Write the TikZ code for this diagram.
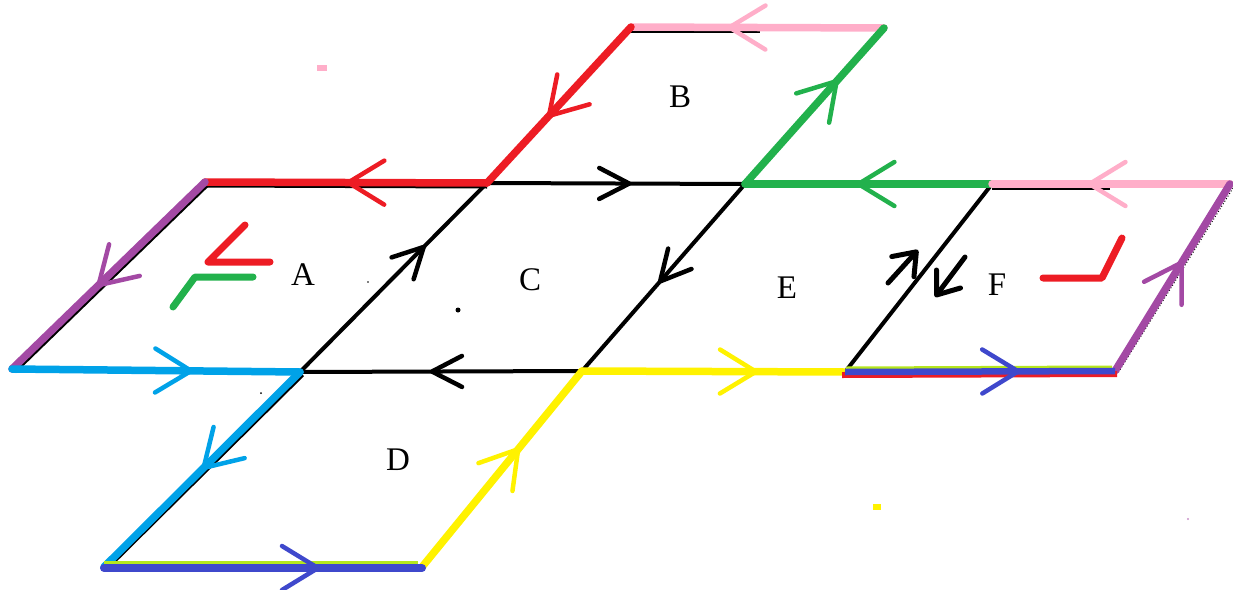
\documentclass[tikz,border=0pt]{standalone}
\usepackage{fontspec}
\setmainfont{Liberation Serif}
\usetikzlibrary{arrows.meta,decorations.markings,calc}
\definecolor{pred}{HTML}{ED1C24}
\definecolor{ppink}{HTML}{FFAEC9}
\definecolor{pgreen}{HTML}{22B14C}
\definecolor{ppurple}{HTML}{A349A4}
\definecolor{pcyan}{HTML}{00A2E8}
\definecolor{pyellow}{HTML}{FFF200}
\definecolor{pblue}{HTML}{3F48CC}
\definecolor{plime}{HTML}{B5E61D}
\tikzset{
  bigtip/.tip={Straight Barb[length=36pt,width=44pt,line width=4.5pt,round]},
  blacktip/.tip={Straight Barb[length=30pt,width=31pt,line width=4.5pt,round]},
  tinytip/.tip={Straight Barb[length=20pt,width=30pt,line width=5pt,round]},
  cedge/.style={line width=7.5pt,line cap=round},
  bedge/.style={line width=4pt,line cap=round},
  under/.style={line width=3pt},
  midarr/.style={postaction={decorate},decoration={markings,mark=at position #1 with {\arrow{bigtip}}}},
  midbarr/.style={postaction={decorate},decoration={markings,mark=at position #1 with {\arrow{blacktip}}}},
  lbl/.style={font=\fontsize{33}{33}\selectfont,inner sep=0pt},
  anglemark/.style={line width=7pt,line cap=round,line join=round},
  smallarr/.style={line width=5pt,line cap=round,-{tinytip}},
}
\begin{document}
\begin{tikzpicture}[x=1pt,y=-1pt]
\useasboundingbox (0,0) rectangle (1233,589);
% vertices
\coordinate (B1) at (631,27);
\coordinate (B2) at (884,28);
\coordinate (T1) at (205,182);
\coordinate (T2) at (487,183);
\coordinate (T3) at (745,184);
\coordinate (T4) at (992,184);
\coordinate (T5) at (1230,184);
\coordinate (M1) at (12,369);
\coordinate (M2) at (300,372);
\coordinate (M3) at (582,371);
\coordinate (M4) at (845,372);
\coordinate (M5) at (1115,371);
\coordinate (D1) at (104,567);
\coordinate (D2) at (422,567);
\coordinate (Bu) at (760,31);
\coordinate (Fu) at (1110,188);
% black under-lines
\draw[under] ($(B1)+(0,4)$) -- (Bu);
\draw[under] ($(T1)+(0,4)$) -- ($(T2)+(0,4)$);
\draw[under] ($(T4)+(0,4)$) -- (Fu);
\draw[under] ($(T1)+(3,3)$) -- ($(M1)+(3,3)$);
\draw[under] ($(M2)+(3,3)$) -- ($(D1)+(3,2)$);
\draw[line width=1pt,dotted] ($(T5)+(3,4)$) -- ($(M5)+(3,2)$);
% black edges of C, E, F
\draw[bedge,midbarr=0.56] (T2) -- (T3);
\draw[bedge,midbarr=0.54] (M3) -- (M2);
\draw[bedge,midbarr=0.67] (M2) -- (T2);
\draw[bedge,midbarr=0.53] (T3) -- (M3);
\draw[bedge] (T4) -- (M4);
% small arrows beside E/F edge
\coordinate (u1) at (888,283); \coordinate (u2) at (918,250);
\coordinate (d1) at (965,257); \coordinate (d2) at (935,297);
\draw[smallarr] (u1) -- (u2);
\draw[smallarr] (d1) -- (d2);
% coloured edges
\draw[cedge,ppink,midarr=0.62] (B2) -- (B1);
\draw[cedge,pred,midarr=0.58] (B1) -- (T2);
\draw[cedge,pgreen,midarr=0.67] (T3) -- (B2);
\draw[cedge,pred,midarr=0.50] (T2) -- (T1);
\draw[cedge,pgreen,midarr=0.55] (T4) -- (T3);
\draw[cedge,ppink,midarr=0.60] (T5) -- (T4);
\draw[cedge,ppurple,midarr=0.56] (T1) -- (M1);
\draw[cedge,ppurple,midarr=0.59] (M5) -- (T5);
\draw[cedge,pcyan,midarr=0.63] (M1) -- (M2);
\draw[cedge,pyellow,midarr=0.67] (M3) -- (M4);
\draw[line width=6pt,pred] ($(M4)+(-3,3)$) -- ($(M5)+(2,3)$);
\draw[line width=5pt,plime] ($(M4)+(1,-3)$) -- ($(M5)+(-3,-3)$);
\draw[line width=6.5pt,pblue,midarr=0.65] (M4) -- (M5);
\draw[cedge,pcyan,midarr=0.50] (M2) -- (D1);
\draw[cedge,pyellow,midarr=0.61] (D2) -- (M3);
\draw[line width=5pt,plime] ($(D1)+(0,-4)$) -- ($(D2)+(-4,-4)$);
\draw[line width=8pt,pblue,line cap=round,midarr=0.68] ($(D1)+(0,1)$) -- ($(D2)+(0,1)$);
% angle marks
\draw[anglemark,pred] (245,225) -- (208,262) -- (270,262);
\draw[anglemark,pgreen] (173,307) -- (195,277) -- (253,277);
\draw[anglemark,pred] (1043,278) -- (1102,278) -- (1122,238);
% specks
\fill[ppink] (317,65) rectangle (327,71);
\fill (458,310) circle (2.5);
\fill (368,282) circle (0.8);
\fill (261,393) circle (1);
\fill[pyellow] (873,504) rectangle (881,510);
\fill[ppurple!60] (1188,519) circle (1.2);
% labels
\node[lbl] (la) at (303,275) {A};
\node[lbl] (lb) at (680,97) {B};
\node[lbl] (lc) at (530,280) {C};
\node[lbl] (ld) at (398,460) {D};
\node[lbl] (le) at (787,288) {E};
\node[lbl] (lf) at (997,285) {F};
\end{tikzpicture}
\end{document}
